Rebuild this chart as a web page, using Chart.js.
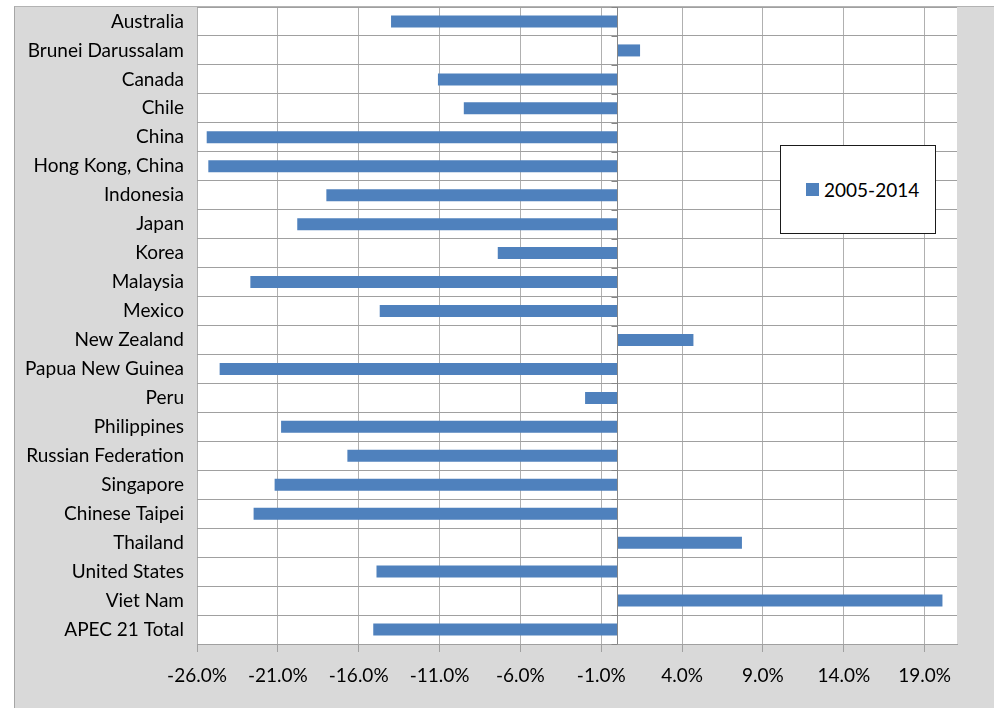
<!DOCTYPE html>
<html>
<head>
<meta charset="utf-8">
<script src="https://cdn.jsdelivr.net/npm/chart.js@4/dist/chart.umd.min.js"></script>
<style>
  html, body { margin: 0; padding: 0; background: #ffffff; }
  #wrap { position: relative; width: 994px; height: 708px; overflow: hidden; }
  #frame {
    position: absolute; left: 14px; top: 6px; width: 980px; height: 702px;
    box-sizing: border-box; background: #d9d9d9;
    border-top: 1px solid #b3b3b3; border-left: 1px solid #a6a6a6;
  }
  #chart { position: absolute; left: 0; top: 0; }
  #legend {
    position: absolute; left: 780px; top: 145px; width: 156px; height: 89px;
    box-sizing: border-box; background: #ffffff; border: 1px solid #1a1a1a;
    display: flex; align-items: center; padding-left: 25px;
    font-family: Lato, "Noto Sans", sans-serif; font-size: 19px; color: #000;
  }
  #legend .swatch { width: 13px; height: 13px; margin-right: 5px; flex: none; }
</style>
</head>
<body>
<div id="wrap">
  <div id="frame"></div>
  <canvas id="chart" width="994" height="708"></canvas>
  <div id="legend"></div>
</div>
<script>
// Economies, in drawing order from top to bottom
const economies = [
  "Australia", "Brunei Darussalam", "Canada", "Chile", "China",
  "Hong Kong, China", "Indonesia", "Japan", "Korea", "Malaysia", "Mexico",
  "New Zealand", "Papua New Guinea", "Peru", "Philippines",
  "Russian Federation", "Singapore", "Chinese Taipei", "Thailand",
  "United States", "Viet Nam", "APEC 21 Total"
];

// Change over 2005-2014, in percent
const seriesLabel = "2005-2014";
const change2005to2014 = [
  -14.0, 1.4, -11.1, -9.5, -25.4,
  -25.3, -18.0, -19.8, -7.4, -22.7, -14.7,
  4.7, -24.6, -2.0, -20.8,
  -16.7, -21.2, -22.5, 7.7,
  -14.9, 20.1, -15.1
];

// Value axis range and tick positions, in percent
const axisMin = -26;
const axisMax = 21;
const tickValues = [-26, -21, -16, -11, -6, -1, 4, 9, 14, 19];

const barColor = "#4f81bd";
const fontFamily = "Lato, 'Noto Sans', sans-serif";

// White plot area over the grey frame
const plotBackground = {
  id: "plotBackground",
  beforeDraw(chart) {
    const { ctx, chartArea: a } = chart;
    ctx.save();
    ctx.fillStyle = "#ffffff";
    ctx.fillRect(a.left, a.top, a.right - a.left, a.bottom - a.top);
    ctx.restore();
  }
};

// Category axis crossing the value axis at zero, with its tick marks
const zeroAxis = {
  id: "zeroAxis",
  afterDatasetsDraw(chart) {
    const { ctx, chartArea: a, scales } = chart;
    const x0 = Math.round(scales.x.getPixelForValue(0)) + 0.5;
    const y = scales.y;
    const n = economies.length;
    const step = (a.bottom - a.top) / n;
    ctx.save();
    ctx.strokeStyle = "#868686";
    ctx.lineWidth = 1;
    ctx.beginPath();
    ctx.moveTo(x0, a.top);
    ctx.lineTo(x0, a.bottom);
    for (let i = 0; i <= n; i++) {
      const yy = Math.round(y.getPixelForValue(0) - step / 2 + i * step) + 0.5;
      ctx.moveTo(x0 - 6, yy);
      ctx.lineTo(x0, yy);
    }
    ctx.stroke();
    ctx.restore();
  }
};

const chart = new Chart(document.getElementById("chart"), {
  type: "bar",
  data: {
    labels: economies,
    datasets: [{
      label: seriesLabel,
      data: change2005to2014,
      backgroundColor: barColor,
      borderWidth: 0,
      barPercentage: 0.415,
      categoryPercentage: 1.0
    }]
  },
  options: {
    indexAxis: "y",
    responsive: false,
    animation: false,
    layout: { padding: { top: 7, right: 37, bottom: 0, left: 0 } },
    plugins: {
      legend: { display: false },
      tooltip: { enabled: false }
    },
    scales: {
      x: {
        min: axisMin,
        max: axisMax,
        afterBuildTicks(scale) {
          scale.ticks = tickValues.map(v => ({ value: v }));
        },
        afterFit(scale) { scale.height = 64; },
        grid: {
          color: "#b0b0b0",
          lineWidth: 1,
          drawTicks: true,
          tickLength: 8,
          tickColor: "#a0a0a0"
        },
        border: { display: true, color: "#a0a0a0", width: 1 },
        ticks: {
          padding: 12,
          color: "#000000",
          font: { family: fontFamily, size: 19 },
          maxRotation: 0,
          autoSkip: false,
          callback: v => v.toFixed(1) + "%"
        }
      },
      y: {
        afterFit(scale) {
          scale.width = 197;
          scale.paddingTop = 0;
          scale.paddingBottom = 0;
        },
        grid: {
          offset: true,
          color: "#a0a0a0",
          lineWidth: 1,
          drawTicks: false
        },
        border: { display: false },
        ticks: {
          padding: 13,
          color: "#000000",
          font: { family: fontFamily, size: 19 },
          autoSkip: false
        }
      }
    }
  },
  plugins: [plotBackground, zeroAxis]
});

// Legend box built from the dataset
const legend = document.getElementById("legend");
chart.data.datasets.forEach(ds => {
  const sw = document.createElement("span");
  sw.className = "swatch";
  sw.style.background = ds.backgroundColor;
  const tx = document.createElement("span");
  tx.textContent = ds.label;
  legend.appendChild(sw);
  legend.appendChild(tx);
});
</script>
</body>
</html>
